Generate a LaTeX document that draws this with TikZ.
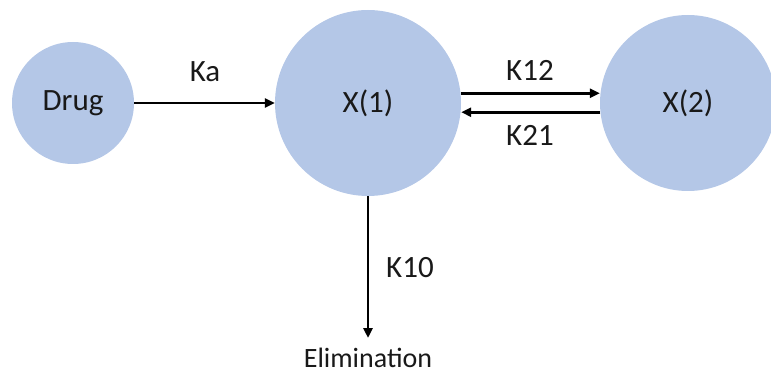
\documentclass[tikz,border=0pt]{standalone}
\usepackage{fontspec}
\setmainfont{Carlito}
\usetikzlibrary{arrows.meta}
\definecolor{compfill}{RGB}{180,199,231}
\definecolor{inktext}{RGB}{25,25,25}
\tikzset{
  compartment/.style={circle, fill=compfill, draw=none, inner sep=0pt, text=inktext, font=\fontsize{31}{36}\selectfont},
  flow/.style={line width=2.6pt, draw=black, -{Triangle[length=10pt,width=9pt]}},
  ratelabel/.style={text=inktext, font=\fontsize{31}{36}\selectfont},
}
\begin{document}
\begin{tikzpicture}[x=1pt,y=-1pt]
\useasboundingbox (0,0) rectangle (771,374);
% compartments
\node[compartment, minimum size=122pt] (drug) at (73,103) {Drug};
\node[compartment, minimum size=186pt] (x1) at (368,103) {X(1)};
\node[compartment, minimum size=176pt] (x2) at (688,103) {X(2)};
% absorption
\draw[flow] (drug.east) -- (x1.west);
\node[ratelabel] (ka) at (205,72) {Ka};
% exchange between the two compartments
\path (x1.6) coordinate (k12s);
\draw[flow] (k12s) -- (k12s -| x2.west);
\path (x2.-174) coordinate (k21s);
\draw[flow] (k21s) -- (k21s -| x1.east);
\node[ratelabel] (k12) at (530,70) {K12};
\node[ratelabel] (k21) at (530,135) {K21};
% elimination
\node[ratelabel, font=\fontsize{28}{32}\selectfont] (elim) at (368,358) {Elimination};
\coordinate (elimtop) at (368,338);
\draw[flow] (x1.south) -- (elimtop);
\node[ratelabel] (k10) at (410,268) {K10};
\end{tikzpicture}
\end{document}
